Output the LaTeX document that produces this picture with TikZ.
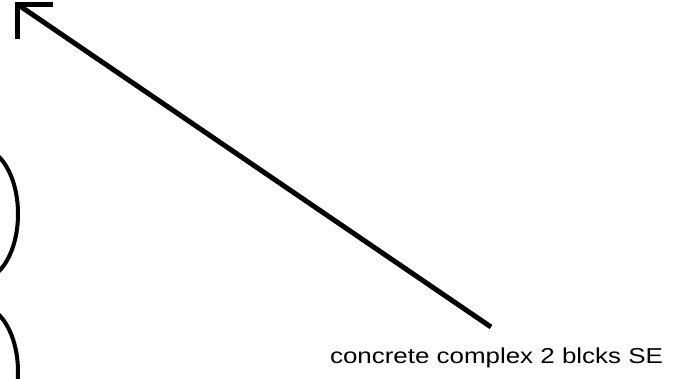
\documentclass[tikz,border=0pt]{standalone}
\usepackage{fontspec}
\setmainfont{Liberation Sans}
\begin{document}
\begin{tikzpicture}[x=1pt,y=-1pt,
  stroke/.style={line width=5pt,black},
  lbl/.style={font=\fontsize{21.6}{24}\selectfont, inner sep=0pt, anchor=base, xscale=1.2}]
\useasboundingbox (0,0) rectangle (677,378);
\coordinate (tip) at (17,4);
\coordinate (tail) at (491,327);
\draw[stroke, line cap=butt] (tail) -- (tip);
\draw[stroke, line join=miter, line cap=butt] (53,4) -- (tip) -- (17,39);
\begin{scope}
\clip (0,0) rectangle (677,378);
\draw[line width=4pt] (-20,214) ellipse [x radius=38, y radius=66];
\draw[line width=4pt] (-20,372) ellipse [x radius=38, y radius=66];
\end{scope}
\node[lbl] (label) at (496.5,363) {concrete complex 2 blcks SE};
\end{tikzpicture}
\end{document}
